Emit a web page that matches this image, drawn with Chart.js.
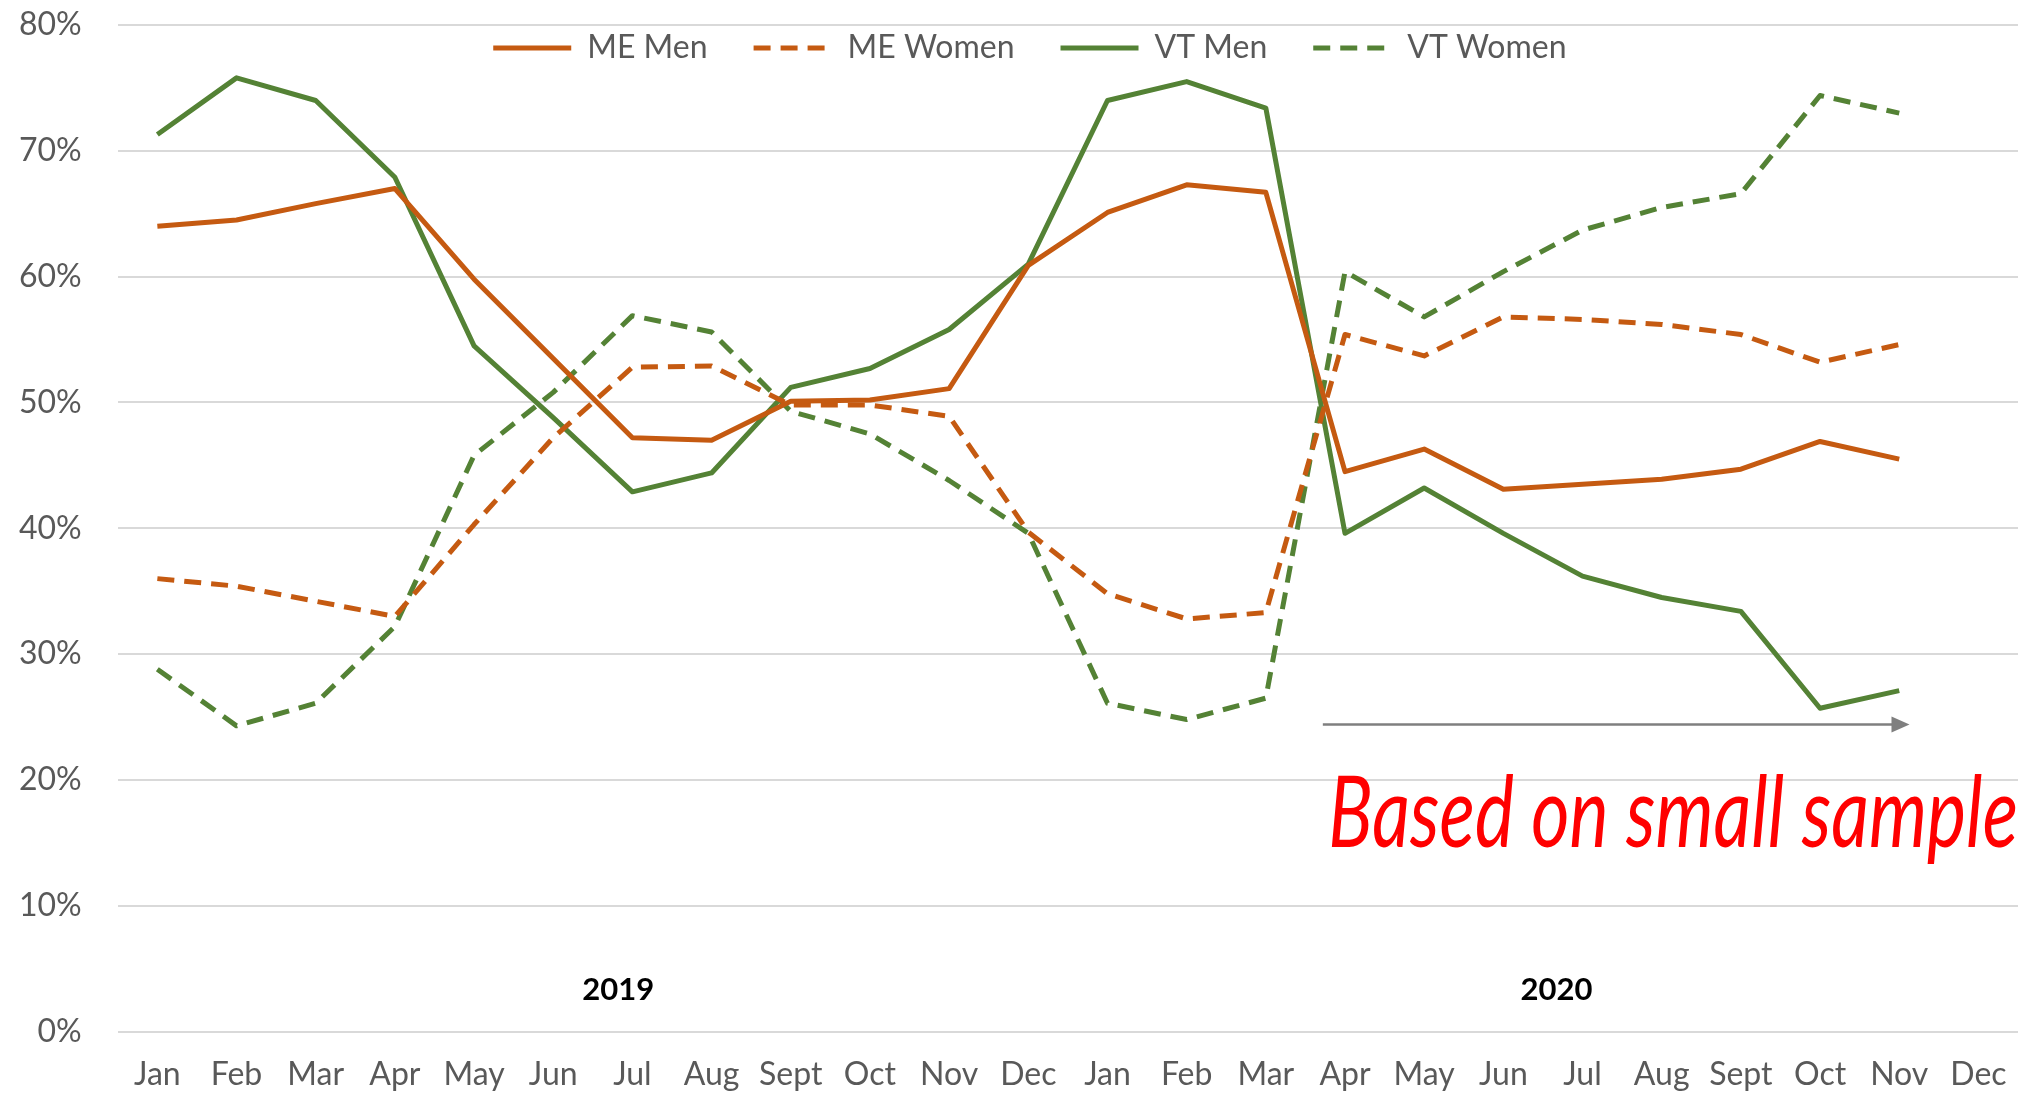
<!DOCTYPE html>
<html>
<head>
<meta charset="utf-8">
<script src="https://cdn.jsdelivr.net/npm/chart.js@4.4.1/dist/chart.umd.min.js"></script>
<style>
  html, body { margin: 0; padding: 0; background: #ffffff; overflow: hidden; }
  #wrap { width: 2028px; height: 1093px; }
</style>
</head>
<body>
<div id="wrap"><canvas id="c" width="2028" height="1093"></canvas></div>
<script>
// ---------------- data ----------------
const monthLabels = ['Jan','Feb','Mar','Apr','May','Jun','Jul','Aug','Sept','Oct','Nov','Dec',
                     'Jan','Feb','Mar','Apr','May','Jun','Jul','Aug','Sept','Oct','Nov','Dec'];

const meMen   = [64.0, 64.5, 65.8, 67.0, 59.8, 53.5, 47.2, 47.0, 50.1, 50.2, 51.1, 60.9,
                 65.1, 67.3, 66.7, 44.5, 46.3, 43.1, 43.5, 43.9, 44.7, 46.9, 45.5, null];
const meWomen = [36.0, 35.4, 34.2, 33.0, 40.3, 47.2, 52.8, 52.9, 49.8, 49.8, 48.9, 39.7,
                 34.8, 32.8, 33.3, 55.4, 53.7, 56.8, 56.6, 56.2, 55.4, 53.2, 54.6, null];
const vtMen   = [71.3, 75.8, 74.0, 67.9, 54.5, 48.8, 42.9, 44.4, 51.2, 52.7, 55.8, 61.0,
                 74.0, 75.5, 73.4, 39.6, 43.2, 39.6, 36.2, 34.5, 33.4, 25.7, 27.1, null];
const vtWomen = [28.8, 24.3, 26.1, 32.2, 45.8, 50.8, 56.9, 55.6, 49.3, 47.5, 43.8, 39.6,
                 26.1, 24.8, 26.5, 60.4, 56.8, 60.4, 63.7, 65.5, 66.6, 74.4, 73.0, null];

const seriesNames = ['ME Men', 'ME Women', 'VT Men', 'VT Women'];
const yearLabels = ['2019', '2020'];
const noteText = 'Based on small sample';

// ---------------- styles / placement (kept apart from the data) ----------------
const ORANGE = '#C55A11';
const GREEN = '#548235';
const TEXT_GREY = '#595959';
const FONT = 'Lato';
const Y_PAD = 36, X_PAD = 16;
const annotCfg = {
  yearX: [5.82, 17.67],
  yearY: 3.3,
  arrowFrom: 14.72, arrowTo: 22.13, arrowY: 24.4,
  noteLeft: 14.79, noteBaseline: 14.66
};

function mkDs(label, data, color, dashed) {
  return {
    label, data,
    borderColor: color, backgroundColor: color,
    borderWidth: 5,
    borderDash: dashed ? [17, 10] : [],
    borderCapStyle: 'butt',
    borderJoinStyle: 'round',
    pointRadius: 0, pointHoverRadius: 0, pointStyle: 'line',
    tension: 0, fill: false, spanGaps: false
  };
}

// legend overlays the plot area (as in the reference) instead of pushing it down
const legendOverlay = {
  id: 'legendOverlay',
  beforeLayout(chart) {
    const lg = chart.legend;
    if (lg && !lg._ovPatched) {
      const orig = lg.fit.bind(lg);
      lg.fit = function () { orig(); this._realH = this.height; this.height = 0; };
      lg._ovPatched = true;
    }
  },
  afterLayout(chart) {
    const lg = chart.legend;
    if (!lg) return;
    const h = lg._realH || 0;
    const ca = chart.chartArea;
    const pad = lg.options.labels.padding;
    const fs = lg.options.labels.font.size;
    lg.top = ca.top + 23 - pad - fs / 2;
    lg.bottom = lg.top + h;
    lg.height = h;
    lg.left = ca.left - 76;
    lg.right = ca.right;
    lg.width = lg.right - lg.left;
  }
};

const annotations = {
  id: 'annotations',
  afterDatasetsDraw(chart) {
    const { ctx, chartArea } = chart;
    const x = chart.scales.x, y = chart.scales.y;
    ctx.save();
    ctx.font = 'bold 31px ' + FONT;
    ctx.fillStyle = '#000000';
    ctx.textAlign = 'center';
    ctx.textBaseline = 'middle';
    yearLabels.forEach((t, i) => {
      ctx.fillText(t, x.getPixelForValue(annotCfg.yearX[i]), y.getPixelForValue(annotCfg.yearY));
    });
    const ax0 = x.getPixelForValue(annotCfg.arrowFrom);
    const ax1 = x.getPixelForValue(annotCfg.arrowTo);
    const ay = y.getPixelForValue(annotCfg.arrowY);
    ctx.strokeStyle = '#7F7F7F';
    ctx.fillStyle = '#7F7F7F';
    ctx.lineWidth = 2.5;
    ctx.beginPath();
    ctx.moveTo(ax0, ay);
    ctx.lineTo(ax1 - 14, ay);
    ctx.stroke();
    ctx.beginPath();
    ctx.moveTo(ax1, ay);
    ctx.lineTo(ax1 - 18, ay - 8);
    ctx.lineTo(ax1 - 18, ay + 8);
    ctx.closePath();
    ctx.fill();
    const left = x.getPixelForValue(annotCfg.noteLeft);
    const right = chartArea.right;
    const base = y.getPixelForValue(annotCfg.noteBaseline);
    ctx.font = 'italic 99px ' + FONT;
    ctx.fillStyle = '#FF0000';
    ctx.textAlign = 'left';
    ctx.textBaseline = 'alphabetic';
    const w = ctx.measureText(noteText).width;
    const sx = (right - left) / w;
    ctx.translate(left, base);
    ctx.scale(sx, 1);
    ctx.fillText(noteText, 0, 0);
    ctx.restore();
  }
};

Chart.defaults.font.family = FONT;

new Chart(document.getElementById('c'), {
  type: 'line',
  data: {
    labels: monthLabels,
    datasets: [
      mkDs(seriesNames[0], meMen, ORANGE, false),
      mkDs(seriesNames[1], meWomen, ORANGE, true),
      mkDs(seriesNames[2], vtMen, GREEN, false),
      mkDs(seriesNames[3], vtWomen, GREEN, true)
    ]
  },
  options: {
    responsive: false,
    animation: false,
    devicePixelRatio: 1,
    layout: { padding: { left: 19, right: 10, top: 25, bottom: 0 } },
    plugins: {
      legend: {
        display: true,
        position: 'top',
        labels: {
          usePointStyle: true,
          pointStyleWidth: 78,
          boxHeight: 20,
          padding: 46,
          color: TEXT_GREY,
          font: { size: 32, family: FONT },
          generateLabels(chart) {
            const items = Chart.defaults.plugins.legend.labels.generateLabels(chart);
            items.forEach(it => {
              const ds = chart.data.datasets[it.datasetIndex];
              it.lineDash = ds.borderDash;
              it.lineWidth = ds.borderWidth;
              it.strokeStyle = ds.borderColor;
              it.fillStyle = ds.borderColor;
              it.lineCap = 'butt';
              it.pointStyle = 'line';
            });
            return items;
          }
        }
      },
      tooltip: { enabled: false }
    },
    scales: {
      x: {
        type: 'category',
        offset: true,
        grid: { display: false },
        border: { display: false },
        ticks: {
          color: TEXT_GREY,
          font: { size: 32, family: FONT },
          padding: X_PAD,
          maxRotation: 0,
          autoSkip: false
        },
        afterFit(scale) {
          scale.height -= X_PAD + 1;
          scale.paddingLeft = Math.max(0, scale.paddingLeft - X_PAD);
          scale.paddingRight = Math.max(0, scale.paddingRight - X_PAD);
        }
      },
      y: {
        min: 0, max: 80,
        grid: { color: '#D9D9D9', lineWidth: 2, drawTicks: false },
        border: { display: false },
        ticks: {
          stepSize: 10,
          color: TEXT_GREY,
          font: { size: 32, family: FONT },
          padding: Y_PAD,
          callback: v => v + '%'
        },
        afterFit(scale) {
          scale.width -= Y_PAD;
          scale.paddingTop = Math.max(0, scale.paddingTop - Y_PAD);
          scale.paddingBottom = Math.max(0, scale.paddingBottom - Y_PAD);
        }
      }
    }
  },
  plugins: [legendOverlay, annotations]
});
</script>
</body>
</html>
